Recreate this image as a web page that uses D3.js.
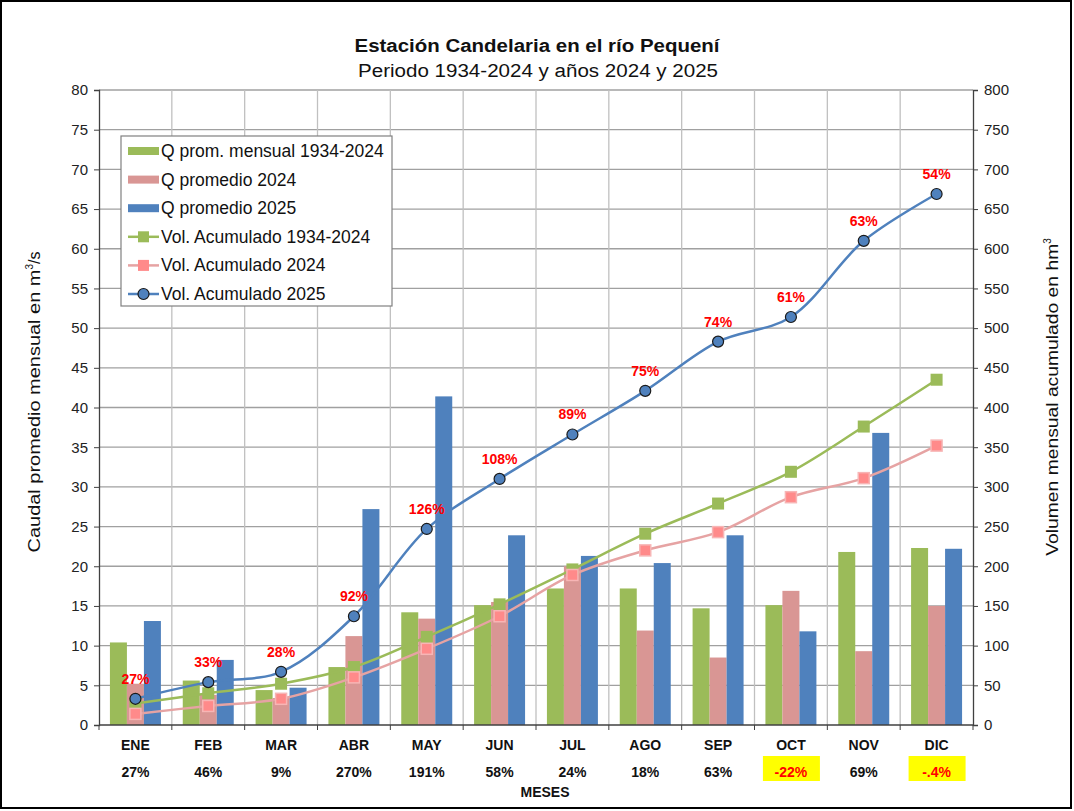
<!DOCTYPE html>
<html>
<head>
<meta charset="utf-8">
<script src="https://cdn.jsdelivr.net/npm/d3@7"></script>
<style>
  body { margin: 0; background: #fff; }
  svg { font-family: "Liberation Sans", Arial, sans-serif; }
</style>
</head>
<body>
<div id="wrapper"></div>
<script>
const meses = ["ENE","FEB","MAR","ABR","MAY","JUN","JUL","AGO","SEP","OCT","NOV","DIC"];
const qHist = [10.4, 5.6, 4.4, 7.3, 14.2, 15.1, 17.2, 17.2, 14.7, 15.1, 21.8, 22.3];
const q2024 = [5.2, 3.8, 3.4, 11.2, 13.4, 15.5, 20.0, 11.9, 8.5, 16.9, 9.3, 15.0];
const q2025 = [13.1, 8.2, 4.7, 27.2, 41.4, 23.9, 21.3, 20.4, 23.9, 11.8, 36.8, 22.2];
const volHist = [27, 40, 52, 73, 111, 152, 196, 241, 279, 319, 376, 435];
const vol2024 = [14, 24, 33, 60, 96, 137, 189, 220, 243, 287, 311, 352];
const vol2025 = [33, 54, 67, 137, 247, 310, 366, 421, 483, 514, 610, 669];
const pctLinea = ["27%","33%","28%","92%","126%","108%","89%","75%","74%","61%","63%","54%"];
const pctMes = ["27%","46%","9%","270%","191%","58%","24%","18%","63%","-22%","69%","-.4%"];
const negativos = ["OCT","DIC"];

const W = 1074, H = 811;
const m = {left: 99, right: 973, top: 90, bottom: 725};

const svg = d3.select("#wrapper").append("svg").attr("width", W).attr("height", H);
svg.append("rect").attr("x",1).attr("y",1).attr("width",W-4).attr("height",H-4)
  .attr("fill","#fff").attr("stroke","#000").attr("stroke-width",2);

const x = d3.scaleBand().domain(meses).range([m.left, m.right]);
const bw = x.bandwidth();
const series = ["hist","2024","2025"];
const xs = d3.scaleBand().domain(series).range([bw*0.15, bw*0.85]);
const yL = d3.scaleLinear().domain([0,80]).range([m.bottom, m.top]);
const yR = d3.scaleLinear().domain([0,800]).range([m.bottom, m.top]);

const colors = {hist:"#9BBB59", "2024":"#D99694", "2025":"#4F81BD"};

// grid
const grid = svg.append("g");
grid.selectAll("line.h").data(d3.range(5,81,5)).join("line")
  .attr("x1", m.left).attr("x2", m.right)
  .attr("y1", d => yL(d)).attr("y2", d => yL(d))
  .attr("stroke","#a0a0a0").attr("stroke-width",1.3);
grid.selectAll("line.v").data(meses.slice(1)).join("line")
  .attr("x1", d => x(d)).attr("x2", d => x(d))
  .attr("y1", m.top).attr("y2", m.bottom)
  .attr("stroke","#c0c0c0").attr("stroke-width",1.3);

// bars
const barData = meses.map((d,i) => ({mes:d, vals:[["hist",qHist[i]],["2024",q2024[i]],["2025",q2025[i]]]}));
svg.append("g").selectAll("g").data(barData).join("g")
  .attr("transform", d => `translate(${x(d.mes)},0)`)
  .selectAll("rect").data(d => d.vals).join("rect")
  .attr("x", d => xs(d[0])).attr("width", xs.bandwidth())
  .attr("y", d => yL(d[1])).attr("height", d => yL(0) - yL(d[1]))
  .attr("fill", d => colors[d[0]]);

// axes
const axL = svg.append("g").attr("transform",`translate(${m.left},0)`)
  .call(d3.axisLeft(yL).tickValues(d3.range(0,81,5)).tickSize(5).tickPadding(6));
const axR = svg.append("g").attr("transform",`translate(${m.right},0)`)
  .call(d3.axisRight(yR).tickValues(d3.range(0,801,50)).tickSize(5).tickPadding(6));
[axL, axR].forEach(a => {
  a.select(".domain").attr("stroke","#404040").attr("stroke-width",1.3);
  a.selectAll(".tick line").attr("stroke","#404040");
  a.selectAll("text").attr("font-size",15).attr("fill","#222").attr("font-family","Liberation Sans, Arial");
});
const axB = svg.append("g");
axB.append("line").attr("x1",m.left).attr("x2",m.right).attr("y1",m.bottom).attr("y2",m.bottom)
  .attr("stroke","#404040").attr("stroke-width",1.3);
axB.selectAll("line.t").data(d3.range(13)).join("line")
  .attr("x1", i => m.left + i*bw).attr("x2", i => m.left + i*bw)
  .attr("y1", m.bottom).attr("y2", m.bottom + 5).attr("stroke","#404040");

// lines
const cx = (d,i) => x(meses[i]) + bw/2;
function drawLine(vals, stroke, w) {
  const line = d3.line().x((d,i) => cx(d,i)).y(d => yR(d)).curve(d3.curveCatmullRom);
  svg.append("path").datum(vals).attr("d", line).attr("fill","none")
    .attr("stroke", stroke).attr("stroke-width", w);
}
drawLine(volHist, "#9BBB59", 2.5);
drawLine(vol2024, "#E6A3A3", 2.5);
drawLine(vol2025, "#4F81BD", 2.5);

svg.append("g").selectAll("rect").data(volHist).join("rect")
  .attr("x", (d,i) => cx(d,i)-6).attr("y", d => yR(d)-6).attr("width",12).attr("height",12)
  .attr("fill","#9BBB59");
svg.append("g").selectAll("rect").data(vol2024).join("rect")
  .attr("x", (d,i) => cx(d,i)-5.5).attr("y", d => yR(d)-5.5).attr("width",11).attr("height",11)
  .attr("fill","#FF8A8A").attr("stroke","#F7B5B5").attr("stroke-width",1.5);
svg.append("g").selectAll("circle").data(vol2025).join("circle")
  .attr("cx", (d,i) => cx(d,i)).attr("cy", d => yR(d)).attr("r",5.5)
  .attr("fill","#4F81BD").attr("stroke","#1a1a1a").attr("stroke-width",1.2);

// labels above 2025 markers
svg.append("g").selectAll("text").data(vol2025).join("text")
  .attr("x", (d,i) => cx(d,i)).attr("y", d => yR(d) - 15)
  .attr("text-anchor","middle").attr("font-size",14).attr("font-weight","bold")
  .attr("fill","#FF0000").text((d,i) => pctLinea[i]);

// month labels
svg.append("g").selectAll("text").data(meses).join("text")
  .attr("x", d => x(d) + bw/2).attr("y", 750).attr("text-anchor","middle")
  .attr("font-size",14).attr("font-weight","bold").attr("fill","#111").text(d => d);

const pg = svg.append("g");
pg.selectAll("rect").data(meses.filter(d => negativos.includes(d))).join("rect")
  .attr("x", d => x(d) + bw/2 - 28).attr("y", 756).attr("width",57).attr("height",25)
  .attr("fill","#FFFF00");
pg.selectAll("text").data(meses).join("text")
  .attr("x", d => x(d) + bw/2).attr("y", 777).attr("text-anchor","middle")
  .attr("font-size",14).attr("font-weight","bold")
  .attr("fill", d => negativos.includes(d) ? "#FF0000" : "#111")
  .text((d,i) => pctMes[i]);

svg.append("text").attr("x",545).attr("y",797).attr("text-anchor","middle")
  .attr("font-size",14).attr("font-weight","bold").attr("fill","#111").text("MESES");

// titles
svg.append("text").attr("x",537).attr("y",52).attr("text-anchor","middle")
  .attr("font-size",18).attr("font-weight","bold").attr("fill","#111")
  .attr("textLength",365).attr("lengthAdjust","spacingAndGlyphs")
  .text("Estación Candelaria en el río Pequení");
svg.append("text").attr("x",538).attr("y",77).attr("text-anchor","middle")
  .attr("font-size",18).attr("fill","#111")
  .attr("textLength",360).attr("lengthAdjust","spacingAndGlyphs")
  .text("Periodo 1934-2024 y años 2024 y 2025");

const tl = svg.append("text").attr("transform","translate(40,402) rotate(-90)")
  .attr("text-anchor","middle").attr("font-size",16).attr("fill","#111");
tl.append("tspan").attr("textLength",283).attr("lengthAdjust","spacingAndGlyphs")
  .text("Caudal promedio mensual en m");
tl.append("tspan").attr("font-size",10).attr("dy",-7).text("3");
tl.append("tspan").attr("dy",7).text("/s");
const tr = svg.append("text").attr("transform","translate(1058,397) rotate(-90)")
  .attr("text-anchor","middle").attr("font-size",16).attr("fill","#111");
tr.append("tspan").attr("textLength",312).attr("lengthAdjust","spacingAndGlyphs")
  .text("Volumen mensual acumulado en hm");
tr.append("tspan").attr("font-size",10).attr("dy",-7).text("3");

// legend
const legItems = [
  {t:"Q prom. mensual 1934-2024", type:"bar", c:"#9BBB59"},
  {t:"Q promedio 2024", type:"bar", c:"#D99694"},
  {t:"Q promedio 2025", type:"bar", c:"#4F81BD"},
  {t:"Vol. Acumulado 1934-2024", type:"sq", l:"#9BBB59", f:"#9BBB59"},
  {t:"Vol. Acumulado 2024", type:"sq", l:"#E6A3A3", f:"#FF8A8A"},
  {t:"Vol. Acumulado 2025", type:"ci", l:"#4F81BD", f:"#4F81BD"}
];
const leg = svg.append("g").attr("transform","translate(121,136)");
leg.append("rect").attr("width",271).attr("height",170).attr("fill","#fff")
  .attr("stroke","#808080").attr("stroke-width",1.2);
const li = leg.selectAll("g").data(legItems).join("g")
  .attr("transform",(d,i) => `translate(0,${15 + i*28.6})`);
li.filter(d => d.type === "bar").append("rect")
  .attr("x",7).attr("y",-4).attr("width",31).attr("height",8).attr("fill", d => d.c);
li.filter(d => d.type !== "bar").append("line")
  .attr("x1",7).attr("x2",38).attr("stroke", d => d.l).attr("stroke-width",2.5);
li.filter(d => d.type === "sq").append("rect")
  .attr("x",17).attr("y",-5.5).attr("width",11).attr("height",11).attr("fill", d => d.f);
li.filter(d => d.type === "ci").append("circle")
  .attr("cx",22.5).attr("r",5.5).attr("fill","#4F81BD").attr("stroke","#1a1a1a").attr("stroke-width",1.2);
li.append("text").attr("x",40).attr("y",6).attr("font-size",17.5).attr("fill","#111").text(d => d.t);
</script>
</body>
</html>
